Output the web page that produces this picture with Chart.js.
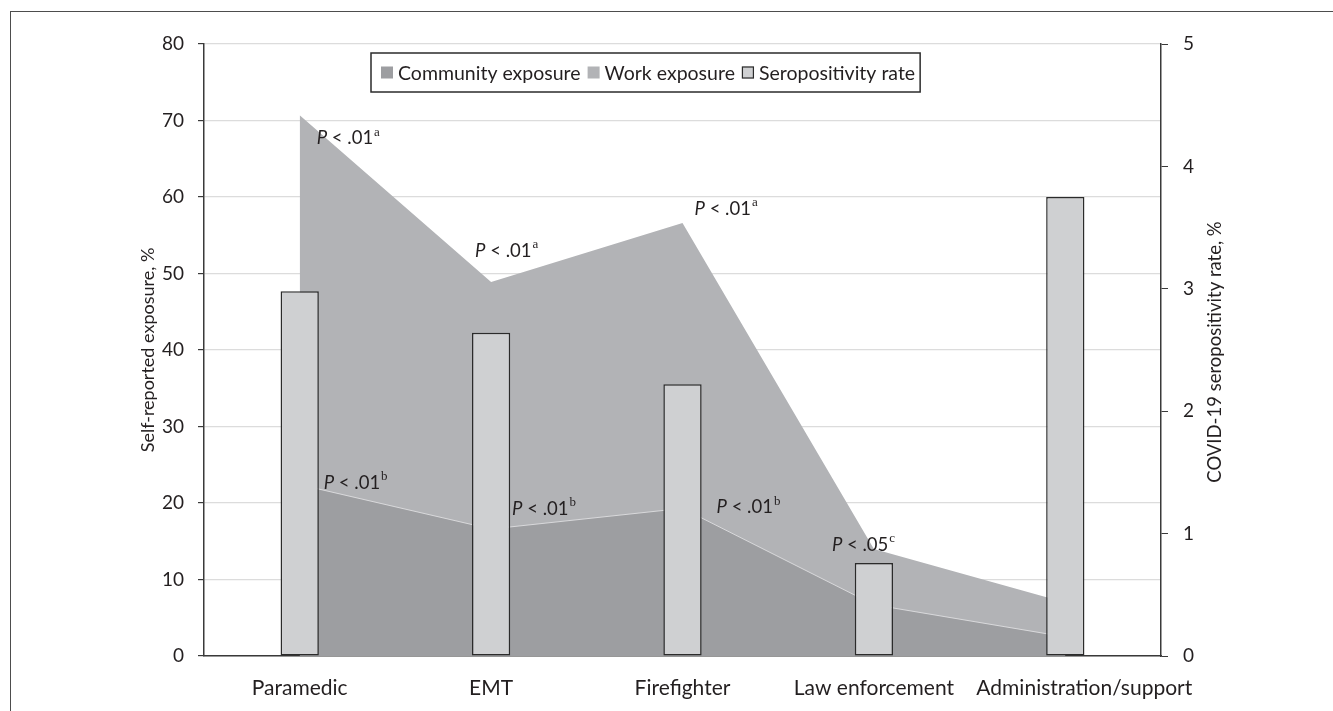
<!DOCTYPE html>
<html>
<head>
<meta charset="utf-8">
<script src="https://cdn.jsdelivr.net/npm/chart.js@4.4.1/dist/chart.umd.min.js"></script>
<style>
  html, body { margin: 0; padding: 0; background: #fff; overflow: hidden; }
  #wrap { position: relative; width: 1333px; height: 711px; }
  #frame { position: absolute; left: 10px; top: 11px; width: 1400px; height: 800px;
           border-top: 1.5px solid #4d4d4d; border-left: 1.5px solid #4d4d4d; pointer-events: none; }
  canvas { position: absolute; left: 0; top: 0; }
</style>
</head>
<body>
<div id="wrap">
  <canvas id="chart" width="1333" height="711"></canvas>
  <div id="frame"></div>
</div>
<script>
// Occupational groups
const categories = ['Paramedic', 'EMT', 'Firefighter', 'Law enforcement', 'Administration/support'];

// Self-reported exposure, % (left axis)
const communityExposure = [22.4, 16.6, 19.3, 6.7, 2.5];
const workExposure = [70.7, 48.9, 56.6, 14.0, 7.0];

// COVID-19 seropositivity rate, % (right axis)
const seropositivityRate = [2.98, 2.64, 2.22, 0.76, 3.75];

// Axis tick labels
const exposureTicks = [0, 10, 20, 30, 40, 50, 60, 70, 80];
const rateTicks = [0, 1, 2, 3, 4, 5];

// Significance notes: which series/group they belong to, the threshold and footnote mark
const noteSeries = ['work', 'work', 'work', 'community', 'community', 'community', 'work'];
const noteGroup = [0, 1, 2, 0, 1, 2, 3];
const noteThreshold = ['.01', '.01', '.01', '.01', '.01', '.01', '.05'];
const noteMark = ['a', 'a', 'a', 'b', 'b', 'b', 'c'];

const TEXT = '#231f20';
const COMMUNITY_FILL = '#9d9ea1';
const WORK_FILL = '#b2b3b6';
const BAR_FILL = '#cfd0d2';
const BAR_EDGE = '#2b2b2b';
const AXIS = '#3a3a3a';
const GRID = '#dcdcdc';

// offsets of each note (left edge of "P", vertical middle) from its data point
const notePlacement = [
  [17, 23], [-16, -31], [12, -14],
  [24, -2], [21, -20], [34, -1],
  [-42, -4]
];

// the last category label is nudged right so it clears its neighbour
const labelNudge = [0, 0, 0, 0, 19];

const notesPlugin = {
  id: 'notes',
  afterDatasetsDraw(chart) {
    const { ctx, scales } = chart;
    const x = scales.x, y = scales.y;
    ctx.save();
    ctx.textBaseline = 'middle';
    ctx.fillStyle = TEXT;
    noteSeries.forEach((s, i) => {
      const vals = s === 'work' ? workExposure : communityExposure;
      const g = noteGroup[i];
      const px = x.getPixelForValue(g) + notePlacement[i][0];
      const py = y.getPixelForValue(vals[g]) + notePlacement[i][1];
      ctx.textAlign = 'left';
      ctx.font = 'italic 18.5px Lato';
      ctx.fillText('P', px, py);
      let w = ctx.measureText('P').width;
      ctx.font = '18.5px Lato';
      const rest = ' < ' + noteThreshold[i];
      ctx.fillText(rest, px + w, py);
      w += ctx.measureText(rest).width;
      ctx.font = '13px "Liberation Serif"';
      ctx.fillText(noteMark[i], px + w + 1, py - 6);
    });
    ctx.restore();
  }
};

const categoryLabelPlugin = {
  id: 'categoryLabels',
  afterDraw(chart) {
    const { ctx, scales } = chart;
    const x = scales.x;
    ctx.save();
    ctx.font = '21px Lato';
    ctx.fillStyle = TEXT;
    ctx.textAlign = 'center';
    ctx.textBaseline = 'alphabetic';
    categories.forEach((c, i) => {
      ctx.fillText(c, x.getPixelForValue(i) + labelNudge[i], x.top + 38.5);
    });
    ctx.restore();
  }
};

const legendPlugin = {
  id: 'boxLegend',
  afterDraw(chart) {
    const { ctx } = chart;
    const box = { x: 371, y: 53, h: 39 };
    const pad = 10, sw = 12, gap = 5, itemGap = 7;
    ctx.save();
    ctx.font = '19.5px Lato';
    ctx.textBaseline = 'middle';
    ctx.textAlign = 'left';
    const cy = box.y + box.h / 2;
    let cx = box.x + pad;
    chart.data.datasets.forEach((ds, i) => {
      ctx.fillStyle = ds.legendColor;
      ctx.fillRect(cx, cy - sw / 2, sw, sw);
      if (ds.type === 'bar') {
        ctx.strokeStyle = BAR_EDGE;
        ctx.lineWidth = 1.2;
        ctx.strokeRect(cx + 0.5, cy - sw / 2 + 0.5, sw - 1, sw - 1);
      }
      cx += sw + gap;
      ctx.fillStyle = TEXT;
      ctx.fillText(ds.label, cx, cy + 1);
      cx += ctx.measureText(ds.label).width;
      if (i < chart.data.datasets.length - 1) cx += itemGap;
    });
    const w = cx + 5 - box.x;
    ctx.strokeStyle = '#2b2b2b';
    ctx.lineWidth = 1.5;
    ctx.strokeRect(box.x, box.y, w, box.h);
    ctx.restore();
  }
};

const rightTitlePlugin = {
  id: 'rightTitle',
  afterDraw(chart) {
    const { ctx, chartArea } = chart;
    ctx.save();
    ctx.translate(1215, (chartArea.top + chartArea.bottom) / 2 + 2);
    ctx.rotate(-Math.PI / 2);
    ctx.font = '18.5px Lato';
    ctx.fillStyle = TEXT;
    ctx.textAlign = 'center';
    ctx.textBaseline = 'middle';
    ctx.fillText('COVID-19 seropositivity rate, %', 0, 0);
    ctx.restore();
  }
};

new Chart(document.getElementById('chart'), {
  data: {
    labels: categories,
    datasets: [
      {
        type: 'line', label: 'Community exposure', data: communityExposure, yAxisID: 'y',
        fill: 'origin', backgroundColor: COMMUNITY_FILL, borderColor: 'rgba(222,222,224,0.9)',
        borderWidth: 1, pointRadius: 0, tension: 0, order: 1, legendColor: COMMUNITY_FILL
      },
      {
        type: 'line', label: 'Work exposure', data: workExposure, yAxisID: 'y',
        fill: 'origin', backgroundColor: WORK_FILL, borderColor: WORK_FILL,
        borderWidth: 0, pointRadius: 0, tension: 0, order: 2, legendColor: WORK_FILL
      },
      {
        type: 'bar', label: 'Seropositivity rate', data: seropositivityRate, yAxisID: 'y1',
        backgroundColor: BAR_FILL, borderColor: BAR_EDGE, borderWidth: 1.5, borderSkipped: false,
        barPercentage: 0.2, categoryPercentage: 1, order: 0, legendColor: BAR_FILL
      }
    ]
  },
  options: {
    responsive: false,
    animation: false,
    devicePixelRatio: 1,
    layout: { padding: { top: 44, left: 0, right: 0, bottom: 0 } },
    plugins: { legend: { display: false }, tooltip: { enabled: false } },
    scales: {
      x: {
        type: 'category',
        offset: true,
        grid: { drawOnChartArea: false, drawTicks: false },
        border: { color: AXIS, width: 1.5 },
        ticks: { display: false },
        afterFit(s) { s.height = 55; }
      },
      y: {
        position: 'left', min: 0, max: 80,
        afterBuildTicks(s) { s.ticks = exposureTicks.map(v => ({ value: v })); },
        grid: { color: GRID, lineWidth: 1.2, tickColor: AXIS, tickLength: 6 },
        border: { color: AXIS, width: 1.5 },
        ticks: { color: TEXT, font: { family: 'Lato', size: 19 }, padding: 14 },
        title: { display: true, text: 'Self-reported exposure, %', color: TEXT,
                 font: { family: 'Lato', size: 18 }, padding: { top: 137, bottom: 0 } },
        afterFit(s) { s.width = 204; }
      },
      y1: {
        position: 'right', min: 0, max: 5,
        afterBuildTicks(s) { s.ticks = rateTicks.map(v => ({ value: v })); },
        grid: { drawOnChartArea: false, tickColor: AXIS, tickLength: 7 },
        border: { color: AXIS, width: 1.5 },
        ticks: { color: TEXT, font: { family: 'Lato', size: 19 }, padding: 15 },
        afterFit(s) { s.width = 172; }
      }
    }
  },
  plugins: [notesPlugin, categoryLabelPlugin, legendPlugin, rightTitlePlugin]
});
</script>
</body>
</html>
